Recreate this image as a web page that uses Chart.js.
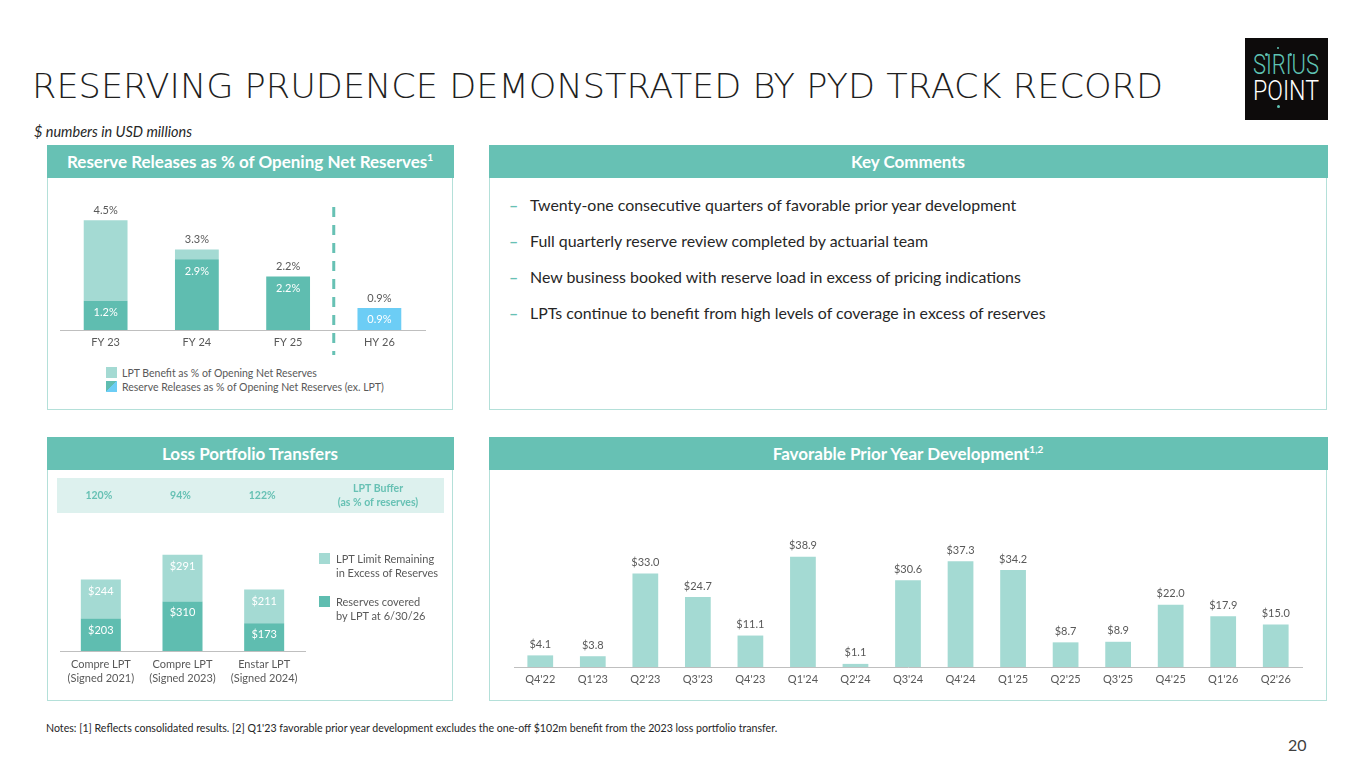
<!DOCTYPE html>
<html lang="en">
<head>
<meta charset="UTF-8">
<title>Reserving Prudence</title>
<script src="https://cdn.jsdelivr.net/npm/chart.js"></script>
<style>
  body { margin:0; width:1365px; height:767px; position:relative; overflow:hidden; background:#fff;
         font-family: Lato, 'Open Sans', sans-serif; color:#595959; }
  .abs { position:absolute; white-space:nowrap; }
  .panel { position:absolute; border:1.5px solid #B4E0D9; box-sizing:border-box; }
  .head { position:absolute; left:-1.5px; right:-1.5px; top:-1.5px; height:33px; background:#67C1B4;
          color:#fff; font-weight:bold; font-size:17px; line-height:33px; text-align:center; }
  .head sup { font-size:10px; line-height:0; }
  .chartbox { position:absolute; }
  .sq { position:absolute; width:11px; height:11px; }
  .leg { position:absolute; font-size:10.5px; color:#595959; white-space:nowrap; line-height:14px; }
  .bullet { position:absolute; left:509px; font-size:15px; line-height:20px; color:#262626; white-space:nowrap; }
  .bullet span { color:#67C1B4; display:inline-block; width:21px; font-weight:bold; }
</style>
</head>
<body>

<!-- data -->
<script>
const reserveCats = ['FY 23', 'FY 24', 'FY 25', 'HY 26'];
const reserveExLpt = [1.2, 2.9, 2.2, 0.9];
const reserveLptBenefit = [3.3, 0.4, 0, 0];

const lptCats = [['Compre LPT', '(Signed 2021)'], ['Compre LPT', '(Signed 2023)'], ['Enstar LPT', '(Signed 2024)']];
const lptCovered = [203, 310, 173];
const lptRemaining = [244, 291, 211];
const lptBuffer = [120, 94, 122];

const pydQuarters = ["Q4'22", "Q1'23", "Q2'23", "Q3'23", "Q4'23", "Q1'24", "Q2'24", "Q3'24",
                     "Q4'24", "Q1'25", "Q2'25", "Q3'25", "Q4'25", "Q1'26", "Q2'26"];
const pydValues = [4.1, 3.8, 33.0, 24.7, 11.1, 38.9, 1.1, 30.6, 37.3, 34.2, 8.7, 8.9, 22.0, 17.9, 15.0];

const comments = [
  'Twenty-one consecutive quarters of favorable prior year development',
  'Full quarterly reserve review completed by actuarial team',
  'New business booked with reserve load in excess of pricing indications',
  'LPTs continue to benefit from high levels of coverage in excess of reserves'
];

const TEAL = '#67C1B4';
const DARK = '#5FBDB0';
const LIGHT = '#A4DAD3';
const BLUE = '#6CCDF5';
const GREY = '#595959';
</script>

<div id="title" class="abs" style="left:32px; top:70px; font-family:'DejaVu Sans', Lato; font-weight:200; font-size:33px; color:#1f1f1f; line-height:1; transform-origin:left top;">RESERVING PRUDENCE DEMONSTRATED BY PYD TRACK RECORD</div>
<div id="units" class="abs" style="left:34px; top:124px; font-size:12px; font-style:italic; color:#262626; line-height:16px;">$ numbers in USD millions</div>

<!-- logo -->
<div class="abs" style="left:1245px; top:38px; width:83px; height:82px; background:#0d0b0b;">
  <div id="logo1" class="abs" style="left:8px; top:14px; font-family:Roboto; font-weight:300; font-size:27px; color:#5FC3B4; line-height:27px; transform-origin:left top;">SIRIUS</div>
  <div id="logo2" class="abs" style="left:8px; top:40px; font-family:Roboto; font-weight:300; font-size:27px; color:#fff; line-height:27px; transform-origin:left top;">POINT</div>
  <div class="abs" style="left:20px; top:15px; width:3px; height:3px; border-radius:2px; background:#5FC3B4;"></div>
  <div class="abs" style="left:44px; top:15px; width:3px; height:3px; border-radius:2px; background:#5FC3B4;"></div>
  <div class="abs" style="left:32px; top:9px; width:2px; height:2px; border-radius:1px; background:#5FC3B4;"></div>
  <div class="abs" style="left:32px; top:67px; width:3px; height:3px; border-radius:2px; background:#5FC3B4;"></div>
</div>

<!-- top-left panel -->
<div class="panel" style="left:47px; top:145px; width:406px; height:265px;">
  <div class="head">Reserve Releases as % of Opening Net Reserves<sup>1</sup></div>
</div>
<div class="chartbox" style="left:47px; top:185px; width:405px; height:175px;"><canvas id="reserveChart"></canvas></div>
<div class="sq" style="left:106px; top:367px; background:#A4DAD3;"></div>
<div class="leg" style="left:122px; top:366px;">LPT Benefit as % of Opening Net Reserves</div>
<div class="sq" style="left:106px; top:381px; background:linear-gradient(135deg, #5FBDB0 50%, #6CCDF5 50%);"></div>
<div class="leg" style="left:122px; top:380px;">Reserve Releases as % of Opening Net Reserves (ex. LPT)</div>

<!-- top-right panel -->
<div class="panel" style="left:489px; top:145px; width:838px; height:265px;">
  <div class="head">Key Comments</div>
</div>
<div id="bullets"></div>

<!-- bottom-left panel -->
<div class="panel" style="left:47px; top:437px; width:406px; height:264px;">
  <div class="head">Loss Portfolio Transfers</div>
</div>
<div class="chartbox" style="left:47px; top:478px; width:405px; height:207px;"><canvas id="lptChart"></canvas></div>
<div class="sq" style="left:319px; top:553px; background:#A4DAD3;"></div>
<div class="leg" style="left:336px; top:552px; font-size:11px;">LPT Limit Remaining<br>in Excess of Reserves</div>
<div class="sq" style="left:319px; top:596px; background:#5FBDB0;"></div>
<div class="leg" style="left:336px; top:595px; font-size:11px;">Reserves covered<br>by LPT at 6/30/26</div>

<!-- bottom-right panel -->
<div class="panel" style="left:489px; top:437px; width:838px; height:264px;">
  <div class="head">Favorable Prior Year Development<sup>1,2</sup></div>
</div>
<div class="chartbox" style="left:490px; top:480px; width:835px; height:207px;"><canvas id="pydChart"></canvas></div>

<div id="notes" class="abs" style="left:46px; top:721px; font-size:10px; color:#262626; line-height:14px;">Notes: [1] Reflects consolidated results. [2] Q1'23 favorable prior year development excludes the one-off $102m benefit from the 2023 loss portfolio transfer.</div>
<div class="abs" style="left:1288px; top:735px; font-size:16px; color:#404040; line-height:20px;">20</div>

<script>
    Chart.defaults.font.family = 'Lato, "Open Sans", sans-serif';
    Chart.defaults.color = GREY;
    Chart.defaults.animation = false;

    // stretch a line of text to the width it has on the slide
    function fitWidth(id, target) {
        const el = document.getElementById(id);
        const w = el.getBoundingClientRect().width;
        const fs = parseFloat(getComputedStyle(el).fontSize);
        el.style.fontSize = (fs * target / w) + 'px';
    }
    function squeeze(id, target) {
        const el = document.getElementById(id);
        const w = el.getBoundingClientRect().width;
        el.style.transform = 'scaleX(' + (target / w) + ')';
    }

    // key comments
    const bulletBox = document.getElementById('bullets');
    comments.forEach((c, i) => {
        const d = document.createElement('div');
        d.className = 'bullet';
        d.id = 'bullet' + i;
        d.style.top = (195 + i * 36) + 'px';
        d.innerHTML = '<span>–</span>' + c;
        bulletBox.appendChild(d);
    });

    squeeze('title', 1131);
    fitWidth('units', 158);
    fitWidth('notes', 732);
    fitWidth('bullet3', 538);
    const bfs = document.getElementById('bullet3').style.fontSize;
    [0, 1, 2].forEach(i => document.getElementById('bullet' + i).style.fontSize = bfs);
    squeeze('logo1', 66);
    squeeze('logo2', 66);

    // x axis with a fixed height so the baseline lands where the slide has it
    function xAxis(height, extra) {
        return Object.assign({
            stacked: true,
            grid: { display: false, drawTicks: false },
            border: { display: true, color: '#BFBFBF', width: 1 },
            ticks: { color: GREY, font: { size: 11 }, padding: 6 },
            afterFit(scale) { scale.height = height; }
        }, extra || {});
    }

    // ---------- Reserve releases ----------
    const reserveLabels = {
        id: 'reserveLabels',
        afterDatasetsDraw(chart) {
            const ctx = chart.ctx;
            const x = chart.scales.x, y = chart.scales.y;
            const dark = chart.getDatasetMeta(0);
            ctx.save();
            ctx.textAlign = 'center';
            ctx.textBaseline = 'middle';
            ctx.font = '11px Lato, sans-serif';
            reserveCats.forEach((c, i) => {
                const total = reserveExLpt[i] + reserveLptBenefit[i];
                const top = y.getPixelForValue(total);
                ctx.fillStyle = GREY;
                ctx.fillText(total.toFixed(1) + '%', x.getPixelForValue(i), top - 10);
                const bar = dark.data[i];
                const ly = Math.min(bar.y + 12, (bar.y + bar.base) / 2);
                ctx.fillStyle = '#fff';
                ctx.fillText(reserveExLpt[i].toFixed(1) + '%', bar.x, ly);
            });
            // dashed split between full years and half year
            const sx = (x.getPixelForValue(2) + x.getPixelForValue(3)) / 2;
            ctx.strokeStyle = TEAL;
            ctx.lineWidth = 3;
            ctx.setLineDash([10, 8]);
            ctx.beginPath();
            ctx.moveTo(sx, chart.chartArea.top + 11);
            ctx.lineTo(sx, chart.chartArea.bottom + 25);
            ctx.stroke();
            ctx.restore();
        }
    };

    new Chart(document.getElementById('reserveChart'), {
        type: 'bar',
        data: {
            labels: reserveCats,
            datasets: [
                { label: 'Reserve Releases as % of Opening Net Reserves (ex. LPT)', data: reserveExLpt,
                  backgroundColor: [DARK, DARK, DARK, BLUE] },
                { label: 'LPT Benefit as % of Opening Net Reserves', data: reserveLptBenefit,
                  backgroundColor: LIGHT }
            ]
        },
        options: {
            responsive: true,
            maintainAspectRatio: false,
            layout: { padding: { left: 13, right: 27, top: 11, bottom: 10 } },
            datasets: { bar: { categoryPercentage: 1, barPercentage: 0.48 } },
            plugins: { legend: { display: false }, tooltip: { enabled: false } },
            scales: {
                x: xAxis(20),
                y: { stacked: true, display: false, min: 0, max: 5.5 }
            }
        },
        plugins: [reserveLabels]
    });

    // ---------- Loss portfolio transfers ----------
    const lptDecor = {
        id: 'lptDecor',
        beforeDraw(chart) {
            const ctx = chart.ctx;
            const x = chart.scales.x;
            ctx.save();
            ctx.fillStyle = '#DDF1EE';
            ctx.fillRect(10, 0, 387, 35);
            ctx.fillStyle = TEAL;
            ctx.textAlign = 'center';
            ctx.textBaseline = 'middle';
            ctx.font = 'bold 10.5px Lato, sans-serif';
            lptBuffer.forEach((b, i) => ctx.fillText(b + '%', x.getPixelForValue(i) - 2, 17.5));
            ctx.fillText('LPT Buffer', 331, 11);
            ctx.fillText('(as % of reserves)', 331, 25);
            ctx.restore();
        },
        afterDatasetsDraw(chart) {
            const ctx = chart.ctx;
            ctx.save();
            ctx.fillStyle = '#fff';
            ctx.textAlign = 'center';
            ctx.textBaseline = 'middle';
            ctx.font = '11px Lato, sans-serif';
            [lptCovered, lptRemaining].forEach((vals, d) => {
                chart.getDatasetMeta(d).data.forEach((bar, i) => {
                    ctx.fillText('$' + vals[i], bar.x, bar.y + 11.5);
                });
            });
            ctx.restore();
        }
    };

    new Chart(document.getElementById('lptChart'), {
        type: 'bar',
        data: {
            labels: lptCats,
            datasets: [
                { label: 'Reserves covered by LPT at 6/30/26', data: lptCovered, backgroundColor: DARK },
                { label: 'LPT Limit Remaining in Excess of Reserves', data: lptRemaining, backgroundColor: LIGHT }
            ]
        },
        options: {
            responsive: true,
            maintainAspectRatio: false,
            layout: { padding: { left: 13, right: 147, top: 61, bottom: 0 } },
            datasets: { bar: { categoryPercentage: 1, barPercentage: 0.49 } },
            plugins: { legend: { display: false }, tooltip: { enabled: false } },
            scales: {
                x: xAxis(34, { ticks: { color: GREY, font: { size: 11, lineHeight: 1.27 }, padding: 6 } }),
                y: { stacked: true, display: false, min: 0, max: 700 }
            }
        },
        plugins: [lptDecor]
    });

    // ---------- Favorable prior year development ----------
    const pydLabels = {
        id: 'pydLabels',
        afterDatasetsDraw(chart) {
            const ctx = chart.ctx;
            ctx.save();
            ctx.fillStyle = GREY;
            ctx.textAlign = 'center';
            ctx.textBaseline = 'middle';
            ctx.font = '11px Lato, sans-serif';
            chart.getDatasetMeta(0).data.forEach((bar, i) => {
                ctx.fillText('$' + pydValues[i].toFixed(1), bar.x, bar.y - 11);
            });
            ctx.restore();
        }
    };

    new Chart(document.getElementById('pydChart'), {
        type: 'bar',
        data: {
            labels: pydQuarters,
            datasets: [{ label: 'Favorable PYD', data: pydValues, backgroundColor: LIGHT }]
        },
        options: {
            responsive: true,
            maintainAspectRatio: false,
            layout: { padding: { left: 24, right: 23, top: 17, bottom: 0 } },
            datasets: { bar: { categoryPercentage: 1, barPercentage: 0.49 } },
            plugins: { legend: { display: false }, tooltip: { enabled: false } },
            scales: {
                x: xAxis(20, { stacked: false }),
                y: { display: false, min: 0, max: 60 }
            }
        },
        plugins: [pydLabels]
    });
</script>
</body>
</html>
